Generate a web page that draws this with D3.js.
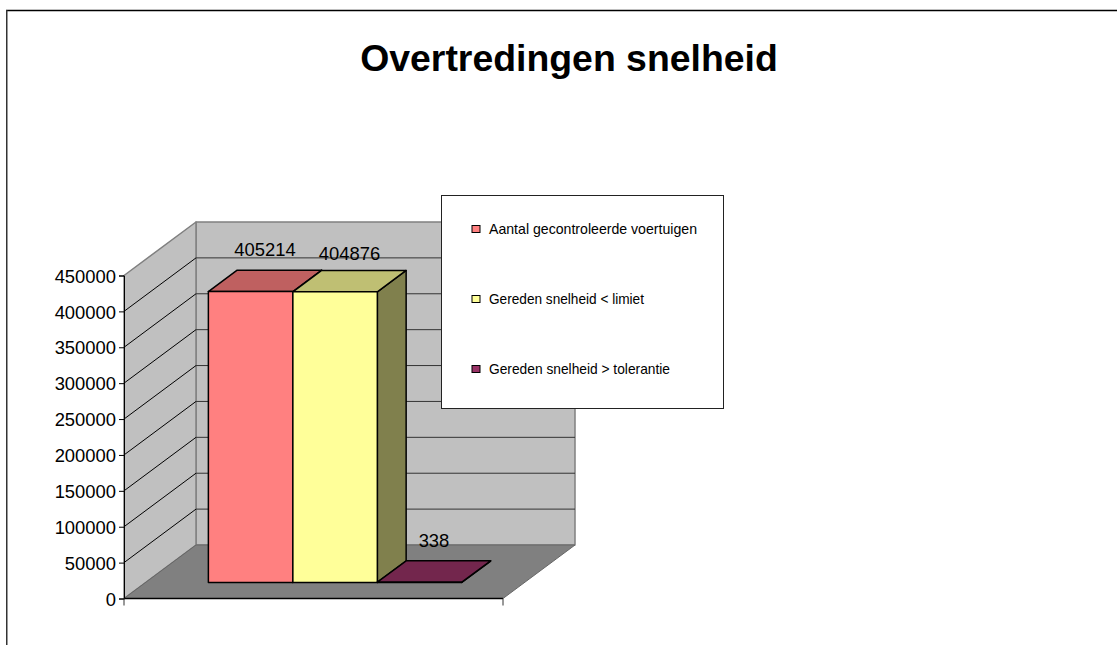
<!DOCTYPE html>
<html>
<head>
<meta charset="utf-8">
<script src="https://cdnjs.cloudflare.com/ajax/libs/d3/7.8.5/d3.min.js"></script>
<style>
html, body { margin: 0; padding: 0; background: #fff; }
svg { display: block; }
text { font-family: "Liberation Sans", Arial, sans-serif; fill: #000; }
</style>
</head>
<body>
<div id="chart"></div>
<script>
// データ
const chartTitle = "Overtredingen snelheid";
const seriesNames = ["Aantal gecontroleerde voertuigen", "Gereden snelheid < limiet", "Gereden snelheid > tolerantie"];
const seriesValues = [405214, 404876, 338];
const seriesColors = ["#FF8080", "#FFFF99", "#993366"];
const yTicks = [0, 50000, 100000, 150000, 200000, 250000, 300000, 350000, 400000, 450000];

const width = 1117;
const height = 645;

// 3D 描画の定数
const PLOT = { left: 124, right: 503, bottom: 598.5, top: 275.5, depthX: 72, depthY: -53.5 };
const BAR_DEPTH = { front: 0.30, back: 0.70 };
const LABEL_LIFT = [24.5, 21.5, 24.5];
const LEGEND_TEXT_WIDTH = [208, 155, 181];

const svg = d3.select("#chart").append("svg")
    .attr("width", width)
    .attr("height", height);

const x = d3.scaleBand()
    .domain(seriesNames)
    .range([PLOT.left, PLOT.right])
    .paddingInner(0)
    .paddingOuter(0.743);
const y = d3.scaleLinear()
    .domain([0, 450000])
    .range([PLOT.bottom, PLOT.top]);
const depthX = d3.scaleLinear().domain([0, 1]).range([0, PLOT.depthX]);
const depthY = d3.scaleLinear().domain([0, 1]).range([0, PLOT.depthY]);

// 画面座標へ投影
function project(px, value, z) {
    return [px + depthX(z), y(value) + depthY(z)];
}

function polygon(points, fill, stroke, strokeWidth) {
    svg.append("polygon")
        .attr("points", points.map(p => p.join(",")).join(" "))
        .attr("fill", fill)
        .attr("stroke", stroke)
        .attr("stroke-width", strokeWidth)
        .attr("stroke-linejoin", "round");
}

function shade(color, k) {
    const c = d3.rgb(color);
    return d3.rgb(c.r * k, c.g * k, c.b * k).formatHex();
}

// 外枠（上と左のみ見える）
svg.append("line")
    .attr("x1", 6).attr("x2", width).attr("y1", 10.5).attr("y2", 10.5)
    .attr("stroke", "#000").attr("stroke-width", 1.5);
svg.append("line")
    .attr("x1", 6.75).attr("x2", 6.75).attr("y1", 10).attr("y2", height)
    .attr("stroke", "#333").attr("stroke-width", 1.5);

svg.append("text")
    .attr("x", 569).attr("y", 71)
    .attr("text-anchor", "middle")
    .attr("font-size", 37.4)
    .attr("font-weight", "bold")
    .text(chartTitle);

// 壁と床
const yMax = y.domain()[1];
polygon([project(PLOT.left, 0, 1), project(PLOT.right, 0, 1), project(PLOT.right, yMax, 1), project(PLOT.left, yMax, 1)], "#C0C0C0", "#808080", 1.5);
polygon([project(PLOT.left, 0, 0), project(PLOT.left, 0, 1), project(PLOT.left, yMax, 1), project(PLOT.left, yMax, 0)], "#C0C0C0", "#808080", 1.5);

// グリッド線
yTicks.filter(t => t > 0 && t < yMax).forEach(t => {
    const a = project(PLOT.left, t, 0), b = project(PLOT.left, t, 1), c = project(PLOT.right, t, 1);
    svg.append("line")
        .attr("x1", a[0]).attr("y1", a[1]).attr("x2", b[0]).attr("y2", b[1])
        .attr("stroke", "#000").attr("stroke-width", 1);
    svg.append("line")
        .attr("x1", b[0]).attr("y1", b[1]).attr("x2", c[0]).attr("y2", c[1])
        .attr("stroke", "#333").attr("stroke-width", 1);
});

polygon([project(PLOT.left, 0, 0), project(PLOT.right, 0, 0), project(PLOT.right, 0, 1), project(PLOT.left, 0, 1)], "#808080", "#666", 1);

// 軸
const yAxis = d3.axisLeft(y).tickValues(yTicks).tickSize(5).tickPadding(3).tickFormat(d3.format("d"));
const yAxisG = svg.append("g").attr("transform", `translate(${PLOT.left},0)`).call(yAxis);
yAxisG.selectAll("text").attr("font-size", 18.4).attr("font-family", null).attr("dy", "0.36em");
yAxisG.select(".domain").attr("stroke", "#000");

svg.append("line")
    .attr("x1", PLOT.left).attr("x2", PLOT.right)
    .attr("y1", PLOT.bottom).attr("y2", PLOT.bottom)
    .attr("stroke", "#000").attr("stroke-width", 1.5);
[PLOT.left, PLOT.right].forEach(px => {
    svg.append("line")
        .attr("x1", px).attr("x2", px)
        .attr("y1", PLOT.bottom).attr("y2", PLOT.bottom + 7)
        .attr("stroke", "#333");
});

// 棒（奥の面から順に）
seriesNames.forEach((name, i) => {
    const value = seriesValues[i];
    const color = seriesColors[i];
    const x0 = x(name);
    const x1 = x0 + x.bandwidth();
    const f = BAR_DEPTH.front, b = BAR_DEPTH.back;
    polygon([project(x1, 0, f), project(x1, 0, b), project(x1, value, b), project(x1, value, f)], shade(color, 0.5), "#000", 1.5);
    polygon([project(x0, value, f), project(x1, value, f), project(x1, value, b), project(x0, value, b)], shade(color, 0.75), "#000", 1.5);
    polygon([project(x0, 0, f), project(x1, 0, f), project(x1, value, f), project(x0, value, f)], color, "#000", 1.5);
});

// データラベル
seriesNames.forEach((name, i) => {
    const top = project(x(name) + x.bandwidth() / 2, seriesValues[i], (BAR_DEPTH.front + BAR_DEPTH.back) / 2);
    svg.append("text")
        .attr("x", top[0])
        .attr("y", top[1] - LABEL_LIFT[i])
        .attr("text-anchor", "middle")
        .attr("font-size", 18.4)
        .text(seriesValues[i]);
});

// 凡例
const legend = svg.append("g");
legend.append("rect")
    .attr("x", 441.5).attr("y", 195.5)
    .attr("width", 282).attr("height", 213)
    .attr("fill", "#fff").attr("stroke", "#222").attr("stroke-width", 1);
const legendY = d3.scalePoint().domain(seriesNames).range([229, 369]);
seriesNames.forEach((name, i) => {
    legend.append("rect")
        .attr("x", 472).attr("y", legendY(name) - 3.5)
        .attr("width", 8).attr("height", 7)
        .attr("fill", seriesColors[i]).attr("stroke", "#000").attr("stroke-width", 1);
    legend.append("text")
        .attr("x", 489).attr("y", legendY(name) + 4.5)
        .attr("font-size", 14.1)
        .attr("textLength", LEGEND_TEXT_WIDTH[i])
        .attr("lengthAdjust", "spacingAndGlyphs")
        .text(name);
});
</script>
</body>
</html>
